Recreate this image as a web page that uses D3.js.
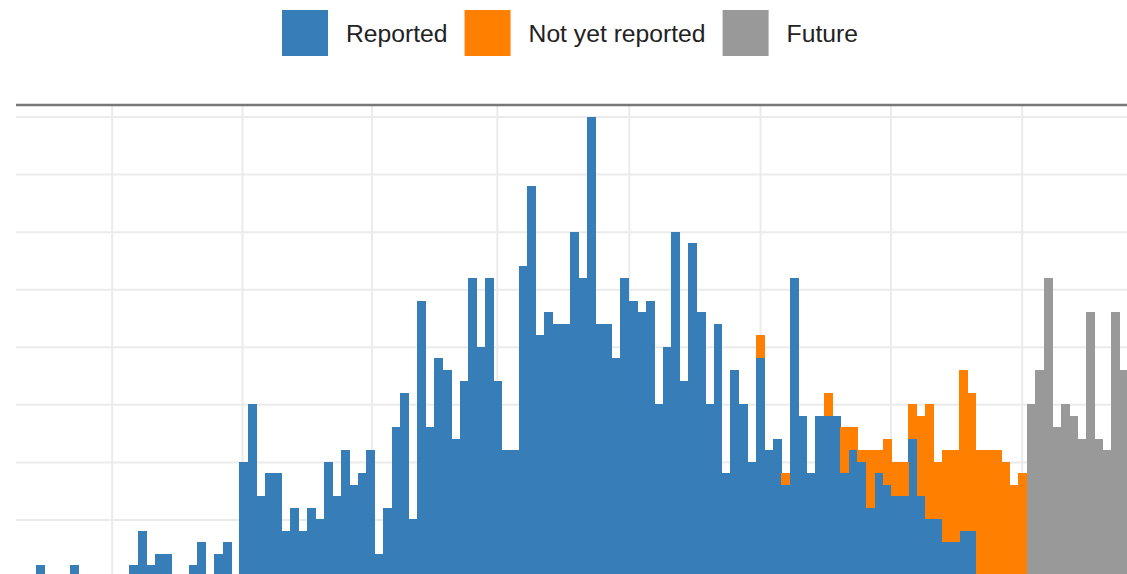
<!DOCTYPE html>
<html>
<head>
<meta charset="utf-8">
<script src="https://cdn.jsdelivr.net/npm/d3@7"></script>
<style>
  html, body { margin: 0; padding: 0; background: #fff; }
  svg { display: block; font-family: "Liberation Sans", Arial, sans-serif; }
</style>
</head>
<body>
<svg id="chart"></svg>
<script>
// daily counts, one entry per day (day 0 = first bar on the left)
var reported = [
  1, 0, 0, 0, 1, 0, 0, 0, 0, 0, 0, 1, 4, 1, 2, 2, 0, 0, 1, 3,
  0, 2, 3, 0, 10, 15, 7, 9, 9, 4, 6, 4, 6, 5, 10, 7, 11, 8, 9, 11,
  2, 6, 13, 16, 5, 24, 13, 19, 18, 12, 17, 26, 20, 26, 17, 11, 11, 27, 34, 21,
  23, 22, 22, 30, 26, 40, 22, 22, 19, 26, 24, 23, 24, 15, 20, 30, 17, 29, 23, 15,
  22, 9, 18, 15, 10, 19, 11, 12, 8, 26, 14, 9, 14, 14, 14, 9, 11, 10, 6, 9,
  8, 7, 7, 12, 7, 5, 5, 3, 3, 4, 4, 0, 0, 0, 0, 0, 0
];
// not yet reported starts at day 85
var notYetStart = 85;
var notYetReported = [
  2, 0, 0, 1, 0, 0, 0, 0, 2, 0, 4, 2, 1, 5, 2, 4, 3, 3, 3, 7,
  10, 5, 8, 8, 14, 12, 11, 11, 11, 10, 8, 9
];
// future days follow the last reported day
var futureStart = 117;
var future = [15, 18, 26, 13, 15, 14, 12, 23, 12, 11, 23, 18];

var seriesKeys = ["Reported", "Not yet reported", "Future"];
var seriesColours = ["#377eb8", "#ff7f00", "#999999"];

var yGridTicks = [5, 10, 15, 20, 25, 30, 35, 40];
var xGridDays = [8.9, 24.3, 39.6, 54.4, 70.0, 85.5, 100.9, 116.4];

var width = 1127, height = 574;

// build one row per day for the stack
var nDays = futureStart + future.length;
var rows = d3.range(nDays).map(function(i) {
  return {
    day: i,
    "Reported": reported[i] || 0,
    "Not yet reported": (i >= notYetStart ? notYetReported[i - notYetStart] : 0) || 0,
    "Future": (i >= futureStart ? future[i - futureStart] : 0) || 0
  };
});

var svg = d3.select("#chart")
  .attr("width", width)
  .attr("height", height);

var plotLeft = 16, plotRight = width, plotTop = 105, plotBottom = 577;

var x = d3.scaleLinear()
  .domain([-2.4, nDays])
  .range([plotLeft, 1128.3]);

var y = d3.scaleLinear()
  .domain([0, 41])
  .range([plotBottom, plotTop]);

var colour = d3.scaleOrdinal().domain(seriesKeys).range(seriesColours);

// horizontal grid lines
svg.append("g")
  .attr("class", "grid-y")
  .attr("transform", "translate(" + plotLeft + ",0)")
  .call(d3.axisLeft(y).tickValues(yGridTicks).tickSize(-(plotRight - plotLeft)).tickFormat(""))
  .call(function(g) { g.select(".domain").remove(); })
  .selectAll("line")
  .attr("stroke", "#ebebeb")
  .attr("stroke-width", 2);

// vertical grid lines
svg.append("g")
  .attr("class", "grid-x")
  .attr("transform", "translate(0," + plotBottom + ")")
  .call(d3.axisBottom(x).tickValues(xGridDays).tickSize(-(plotBottom - plotTop)).tickFormat(""))
  .call(function(g) { g.select(".domain").remove(); })
  .selectAll("line")
  .attr("stroke", "#ebebeb")
  .attr("stroke-width", 2);

// stacked bars
var stacked = d3.stack().keys(seriesKeys)(rows);

svg.append("g")
  .selectAll("g")
  .data(stacked)
  .enter().append("g")
  .attr("fill", function(d) { return colour(d.key); })
  .selectAll("rect")
  .data(function(d) { return d.filter(function(p) { return p[1] > p[0]; }); })
  .enter().append("rect")
  .attr("shape-rendering", "crispEdges")
  .attr("x", function(d) { return x(d.data.day); })
  .attr("width", function(d) { return x(d.data.day + 1) - x(d.data.day) + 0.5; })
  .attr("y", function(d) { return y(d[1]); })
  .attr("height", function(d) { return y(d[0]) - y(d[1]); });

// top border line
svg.append("line")
  .attr("x1", plotLeft).attr("x2", plotRight)
  .attr("y1", plotTop).attr("y2", plotTop)
  .attr("stroke", "#777")
  .attr("stroke-width", 2.5);

// legend
var legend = svg.append("g").attr("class", "legend");
var lx = 282;
seriesKeys.forEach(function(key, i) {
  legend.append("rect")
    .attr("x", lx).attr("y", 10)
    .attr("width", 46).attr("height", 46)
    .attr("fill", colour(key));
  var t = legend.append("text")
    .attr("x", lx + 64).attr("y", 33)
    .attr("dominant-baseline", "central")
    .attr("font-size", 24.7)
    .attr("fill", "#222")
    .text(key);
  lx = lx + 64 + t.node().getComputedTextLength() + 17;
});
</script>
</body>
</html>
